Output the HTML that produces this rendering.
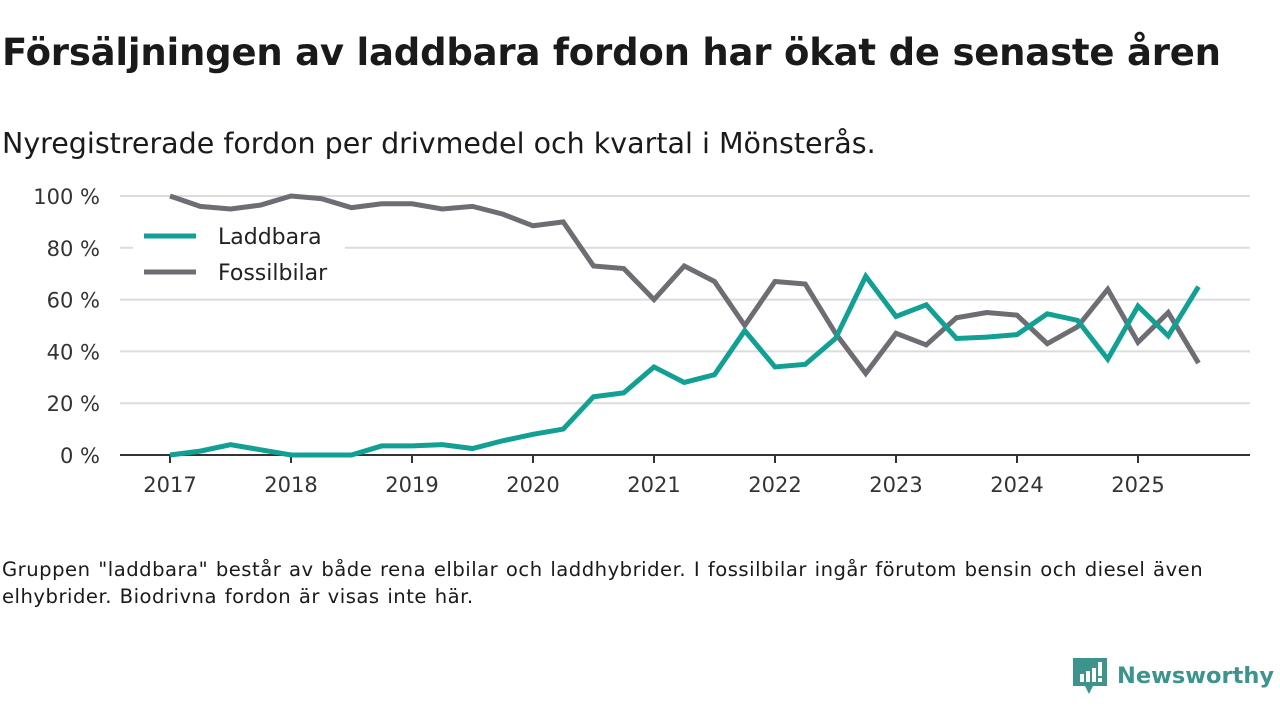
<!DOCTYPE html>
<html><head><meta charset="utf-8"><style>
body{margin:0;width:1280px;height:720px;background:#fff;font-family:"DejaVu Sans",sans-serif;color:#1a1a1a;overflow:hidden;position:relative}
h1{position:absolute;left:2px;top:31px;margin:0;font-size:37px;font-weight:bold;letter-spacing:-0.2px;white-space:nowrap}
.sub{position:absolute;left:2px;top:127px;font-size:28.5px;white-space:nowrap}
.note{position:absolute;left:2px;top:556px;font-size:19.6px;letter-spacing:0.5px;word-spacing:1px;line-height:27px;width:1230px}
.logo{position:absolute;left:1073px;top:656px;display:flex;align-items:center;color:#3d948c;font-size:22.5px;font-weight:bold;white-space:nowrap}
</style></head><body>
<h1>Försäljningen av laddbara fordon har ökat de senaste åren</h1>
<div class="sub">Nyregistrerade fordon per drivmedel och kvartal i Mönsterås.</div>
<svg id="chart" width="1280" height="720" style="position:absolute;left:0;top:0"></svg>
<div class="note">Gruppen "laddbara" består av både rena elbilar och laddhybrider. I fossilbilar ingår förutom bensin och diesel även<br>elhybrider. Biodrivna fordon är visas inte här.</div>
<div class="logo">
<svg width="34" height="40" viewBox="0 0 34 40" style="margin-right:10px"><path d="M0 2h34v28H20l-4 8-4-8H0z" fill="#3d948c"/><rect x="7" y="18" width="4" height="8" fill="#fff"/><rect x="13" y="15" width="4" height="11" fill="#fff"/><rect x="19" y="12" width="4" height="14" fill="#fff"/><rect x="25" y="6" width="4" height="14" fill="#fff"/><rect x="25" y="22" width="4" height="4" fill="#fff"/></svg>
<span>Newsworthy</span></div>
<script>
const years=["2017","2018","2019","2020","2021","2022","2023","2024","2025"];
const yTicks=[0,20,40,60,80,100];
const laddbara=[0,1.5,4,2,0,0,0,3.5,3.5,4,2.5,5.5,8,10,22.5,24,34,28,31,48,34,35,45,69,53.5,58,45,45.5,46.5,54.5,52,37,57.5,46,65];
const fossil=[100,96,95,96.5,100,99,95.5,97,97,95,96,93,88.5,90,73,72,60,73,67,50,67,66,47,31.5,47,42.5,53,55,54,43,49.5,64,43.5,55,35.5];
const NS="http://www.w3.org/2000/svg";
const svg=document.getElementById('chart');
const x=i=>170+30.25*i;
const y=v=>455-2.59*v;
const FF='DejaVu Sans, sans-serif';
function mk(t,a){const e=document.createElementNS(NS,t);for(const k in a)e.setAttribute(k,a[k]);svg.appendChild(e);return e;}
yTicks.forEach(v=>{
 if(v>0){const g=mk('line',{x1:120,x2:1250,y1:y(v),y2:y(v),stroke:'#dcdcdc','stroke-width':2});
 
 }
 const t=mk('text',{x:100,y:y(v)+8,'text-anchor':'end','font-size':21,fill:'#333','font-family':FF});
 t.textContent=v+' %';
 
 
});
const ax=mk('line',{x1:120,x2:1250,y1:455,y2:455,stroke:'#333','stroke-width':2});


years.forEach((yr,i)=>{
 const xx=x(i*4);
 const tk=mk('line',{x1:xx,x2:xx,y1:455,y2:463,stroke:'#333','stroke-width':2});
 
 
 const t=mk('text',{x:xx,y:492,'text-anchor':'middle','font-size':21,fill:'#333','font-family':FF});
 t.textContent=yr;
 
 
});
function line(d,c,n){const p=mk('polyline',{points:d.map((v,i)=>x(i)+','+y(v)).join(' '),fill:'none',stroke:c,'stroke-width':5,'stroke-linejoin':'miter'});
 
 }
line(fossil,'#6e6d73','fossilbilar-line');
line(laddbara,'#12a094','laddbara-line');
const bg=mk('rect',{x:133,y:216,width:212,height:74,fill:'#fff'});


[['Laddbara','#12a094',236],['Fossilbilar','#6e6d73',272]].forEach(([n,c,yy])=>{
 const l=mk('line',{x1:144,x2:196,y1:yy,y2:yy,stroke:c,'stroke-width':5});
 
 
 const t=mk('text',{x:218,y:yy+8,'font-size':22,fill:'#222','font-family':FF});
 t.textContent=n;
 
 
});
</script>
</body></html>
